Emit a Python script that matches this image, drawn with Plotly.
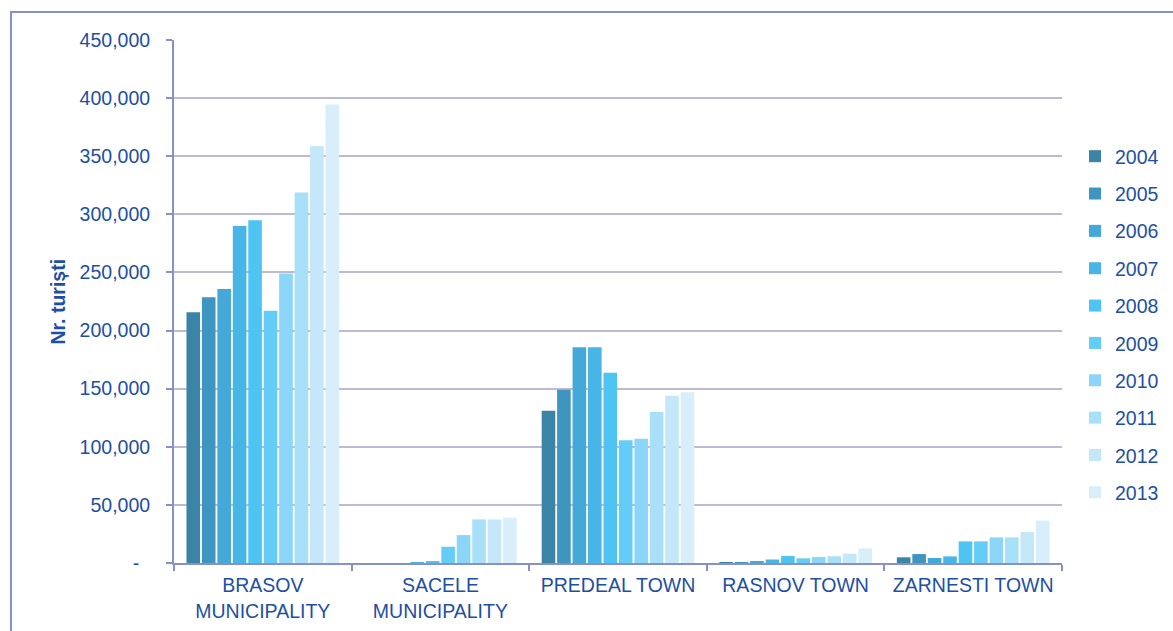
import plotly.graph_objects as go

categories = ["BRASOV<br>MUNICIPALITY", "SACELE<br>MUNICIPALITY", "PREDEAL TOWN", "RASNOV TOWN", "ZARNESTI TOWN"]
years = ["2004", "2005", "2006", "2007", "2008", "2009", "2010", "2011", "2012", "2013"]

v2004 = [215700, 0, 131000, 300, 4900]
v2005 = [228600, 0, 149000, 500, 7700]
v2006 = [235800, 0, 185700, 1500, 4300]
v2007 = [290000, 800, 185700, 3000, 5700]
v2008 = [295000, 1500, 163700, 6000, 18600]
v2009 = [217000, 14000, 105600, 4000, 18600]
v2010 = [249000, 24000, 107000, 5200, 22000]
v2011 = [318700, 37500, 130000, 5800, 22000]
v2012 = [358800, 37500, 144000, 8000, 26600]
v2013 = [394600, 39000, 147000, 12500, 36500]
series = [v2004, v2005, v2006, v2007, v2008, v2009, v2010, v2011, v2012, v2013]

colors = ["#3b84a6", "#3e95c0", "#44a8d8", "#47b5e6", "#4ec4f3",
          "#63cdf7", "#8ad5f8", "#a8dff9", "#c4e7fa", "#d8eefa"]

tick_vals = [0, 50000, 100000, 150000, 200000, 250000, 300000, 350000, 400000, 450000]
tick_text = ["-\u00a0\u00a0", "50,000", "100,000", "150,000", "200,000", "250,000",
             "300,000", "350,000", "400,000", "450,000"]

TXT = "#1d4fa3"
AX = "#8890c8"
FONT = "Liberation Sans, Arial, sans-serif"

fig = go.Figure()
for yr, vals, c in zip(years, series, colors):
    fig.add_trace(go.Bar(x=categories, y=vals, name=yr, marker_color=c,
                         marker_line_width=0, legendgroup=yr))

L, R, T, B = 174, 111, 40, 68
W, H = 1173, 631
pw, ph = W - L - R, H - T - B

def px_x(p):
    return (p - L) / pw

def px_y(p):
    return (H - B - p) / ph

fig.update_layout(
    width=W, height=H,
    margin=dict(l=L, r=R, t=T, b=B, autoexpand=False),
    paper_bgcolor="white", plot_bgcolor="white",
    barmode="group", bargap=0.13, bargroupgap=0.12,
    font=dict(family=FONT, size=19.5, color=TXT),
    legend=dict(x=px_x(1075), y=px_y(137), xanchor="left", yanchor="top",
                font=dict(size=19.5, color=TXT), tracegroupgap=9,
                bgcolor="rgba(0,0,0,0)"),
    xaxis=dict(showline=True, linecolor=AX, linewidth=2, ticks="outside",
               tickson="boundaries", ticklen=6, tickcolor=AX, tickwidth=2,
               showgrid=False, ticklabelstandoff=4,
               tickfont=dict(size=19.5, color=TXT)),
    yaxis=dict(range=[0, 450000], tickvals=tick_vals, ticktext=tick_text,
               showline=True, linecolor=AX, linewidth=2, ticks="outside",
               ticklen=6, tickcolor=AX, tickwidth=2,
               showgrid=True, gridcolor="#bdbbd4", gridwidth=1.5,
               zeroline=False, ticklabelstandoff=12,
               tickfont=dict(size=19.5, color=TXT)),
    annotations=[dict(text="<b>Nr. turiști</b>", xref="paper", yref="paper",
                      x=px_x(57), y=0.5, xanchor="center", yanchor="middle",
                      textangle=-90, showarrow=False,
                      font=dict(size=19.5, color=TXT, family=FONT))],
    shapes=[dict(type="rect", xref="paper", yref="paper",
                 x0=px_x(11), x1=px_x(1190), y0=px_y(650), y1=px_y(12),
                 line=dict(color=AX, width=2), layer="below")],
)

fig.write_html("out.html")
